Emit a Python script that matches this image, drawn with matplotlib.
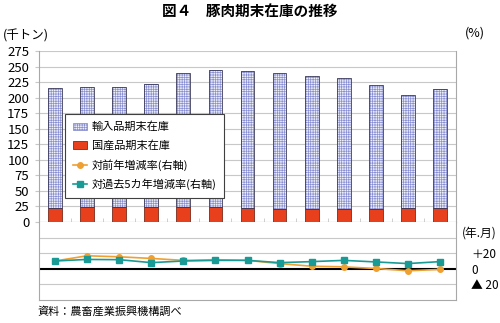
import matplotlib
matplotlib.use("Agg")
import matplotlib.pyplot as plt
from matplotlib.patches import Patch
from matplotlib.lines import Line2D

plt.rcParams['font.family'] = ['Noto Sans CJK JP', 'DejaVu Sans']
plt.rcParams['hatch.linewidth'] = 0.5

# data
months = ["R7.1", "2", "3", "4", "5", "6", "7", "8", "9", "10", "11", "12", "8.1"]
domestic = [23.0, 23.6, 24.0, 24.0, 24.0, 24.0, 22.5, 21.5, 21.0, 21.5, 21.5, 22.5, 22.5]
imports = [192.0, 194.0, 192.6, 198.0, 215.0, 221.0, 220.5, 217.5, 214.0, 210.5, 198.5, 182.5, 191.5]
yoy = [10.0, 16.7, 15.4, 13.3, 10.8, 11.7, 10.8, 6.7, 3.3, 2.5, 0.4, -2.5, -0.8]
vs5y = [10.0, 12.0, 11.7, 7.9, 10.0, 10.8, 10.8, 7.9, 9.2, 10.8, 8.8, 6.7, 9.2]

W, H = 500, 323
fig = plt.figure(figsize=(5.0, 3.23), dpi=100)
grid_c = "#c8c8c8"

# top panel: stacked bars
ax = fig.add_axes([39 / W, 1 - 222 / H, 417 / W, 171 / H])
x = range(len(months))
ax.bar(x, domestic, width=0.43, color="#e8401c", edgecolor="#7a2a1a", linewidth=0.6, zorder=3)
ax.bar(x, imports, bottom=domestic, width=0.43, color="#eef0fb", edgecolor="#8a90d0",
       hatch="+++++++", linewidth=0, zorder=3)
ax.bar(x, imports, bottom=domestic, width=0.43, fill=False, edgecolor="#3a3a5a",
       linewidth=0.6, zorder=4)
ax.set_xlim(-0.5, len(months) - 0.5)
ax.set_ylim(0, 275)
ax.set_yticks(range(0, 276, 25))
ax.yaxis.grid(True, color=grid_c, linewidth=0.8, zorder=0)
ax.set_xticks(list(x))
ax.set_xticklabels(months, fontsize=9)
ax.set_xticks([i + 0.5 for i in range(len(months) - 1)], minor=True)
ax.tick_params(axis="x", which="major", length=0, pad=4)
ax.tick_params(axis="x", which="minor", length=3, color=grid_c, direction="in")
ax.tick_params(axis="y", labelsize=9.5, length=3, color=grid_c, pad=4)
ax.spines["top"].set_visible(False)
for s in ["left", "right", "bottom"]:
    ax.spines[s].set_color("#a8a8a8")
    ax.spines[s].set_linewidth(0.8)

handles = [
    Patch(facecolor="#eef0fb", edgecolor="#8a90d0", hatch="+++++++", linewidth=0.6),
    Patch(facecolor="#e8401c", edgecolor="#7a2a1a", linewidth=0.6),
    Line2D([0], [0], color="#f0a030", marker="o", markersize=4, linewidth=1.2),
    Line2D([0], [0], color="#1a9a94", marker="s", markersize=5, linewidth=1.2),
]
labels = ["輸入品期末在庫", "国産品期末在庫", "対前年増減率(右軸)", "対過去5カ年増減率(右軸)"]
leg = ax.legend(handles, labels, loc="upper left", bbox_to_anchor=(65 / W, 1 - 114 / H),
                bbox_transform=fig.transFigure, borderaxespad=0, fontsize=8,
                fancybox=False, framealpha=1, edgecolor="#404040", handlelength=1.3,
                handletextpad=0.4, labelspacing=0.72, borderpad=0.7)
leg.get_frame().set_linewidth(0.8)
leg.set_zorder(10)

# bottom panel: rate lines
ax2 = fig.add_axes([39 / W, 1 - 300 / H, 417 / W, 78 / H])
ax2.set_xlim(-0.5, len(months) - 0.5)
ax2.set_ylim(-40, 60)
for v in [-20, 20, 40]:
    ax2.axhline(v, color=grid_c, linewidth=0.8, zorder=0)
ax2.axhline(0, color="black", linewidth=1.5, zorder=1)
ax2.plot(x, yoy, color="#f0a030", marker="o", markersize=4, linewidth=1.2, zorder=3)
ax2.plot(x, vs5y, color="#1a9a94", marker="s", markersize=5, linewidth=1.2, zorder=4)
ax2.set_xticks([])
ax2.yaxis.tick_right()
ax2.set_yticks([20, 0, -20])
ax2.set_yticklabels(["＋20", "0", "▲ 20"], fontsize=8.5)
ax2.tick_params(axis="y", length=0, pad=11)
ax2.spines["top"].set_visible(False)
for s in ["left", "right", "bottom"]:
    ax2.spines[s].set_color("#a8a8a8")
    ax2.spines[s].set_linewidth(0.8)

fig.text(250 / W, 1 - 11 / H, "図４　豚肉期末在庫の推移", ha="center", va="center",
         fontsize=10.5, fontweight="bold")
fig.text(3 / W, 1 - 36 / H, "(千トン)", ha="left", va="center", fontsize=9)
fig.text(465 / W, 1 - 33 / H, "(%)", ha="left", va="center", fontsize=9)
fig.text(462 / W, 1 - 233 / H, "(年.月)", ha="left", va="center", fontsize=8.5)
fig.text(38 / W, 1 - 311 / H, "資料：農畜産業振興機構調べ", ha="left", va="center", fontsize=8)

fig.savefig("out.png", dpi=100)
